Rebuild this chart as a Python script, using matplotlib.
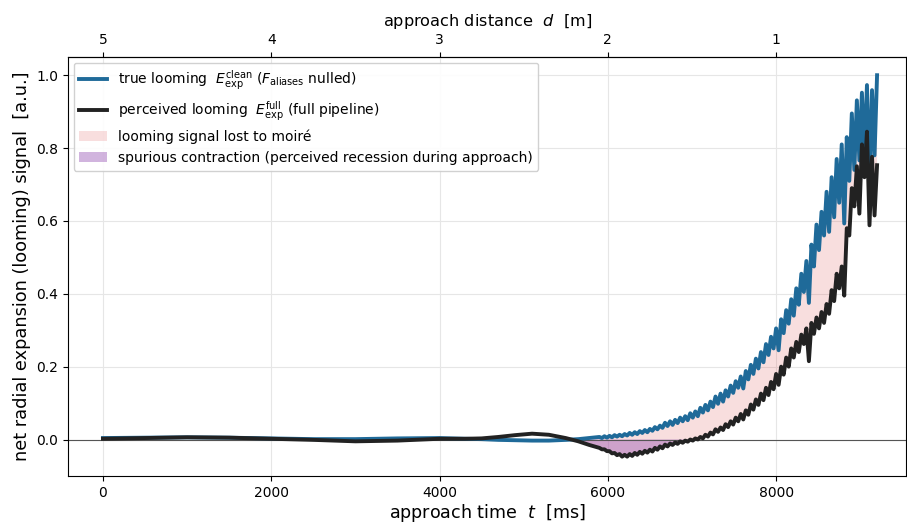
import matplotlib
matplotlib.use("Agg")
import matplotlib.pyplot as plt
import numpy as np

# early, slowly varying part (ms)
t_early = [0, 500, 1000, 1500, 2000, 2500, 3000, 3500, 4000, 4300, 4500,
           4700, 4900, 5100, 5300, 5500, 5650, 5780]
clean_early = [0.004, 0.005, 0.006, 0.005, 0.003, 0.001, 0.001, 0.003, 0.004, 0.002, 0.001,
               -0.001, -0.002, -0.003, -0.003, -0.001, 0.001, 0.004]
full_early = [0.002, 0.004, 0.006, 0.005, 0.002, -0.001, -0.005, -0.003, 0.002, 0.002, 0.003,
              0.007, 0.012, 0.016, 0.013, 0.004, -0.005, -0.015]

t_osc = np.arange(5900, 9201, 30)
clean_osc = [
    .007, .004, .009, .005, .010, .006, .012, .008, .013, .009,
    .015, .011, .018, .013, .020, .015, .023, .018, .026, .020,
    .029, .024, .034, .028, .038, .032, .046, .037, .050, .040,
    .054, .045, .060, .050, .064, .053, .072, .060, .077, .064,
    .087, .074, .095, .080, .104, .089, .118, .098, .126, .104,
    .135, .118, .148, .128, .160, .142, .173, .140, .188, .165,
    .205, .180, .222, .195, .240, .212, .262, .232, .282, .250,
    .305, .245, .330, .292, .355, .318, .385, .340, .415, .370,
    .455, .405, .490, .375, .535, .475, .590, .520, .625, .560,
    .680, .570, .720, .610, .770, .650, .810, .593, .830, .710,
    .895, .740, .931, .766, .952, .776, .973, .693, .959, .780,
    1.0]
full_osc = [
    -.023, -.027, -.027, -.032, -.032, -.038, -.037, -.043, -.040, -.047,
    -.042, -.047, -.040, -.045, -.037, -.042, -.034, -.039, -.031, -.036,
    -.028, -.033, -.023, -.028, -.019, -.024, -.014, -.019, -.011, -.015,
    -.008, -.012, -.005, -.009, -.003, -.006, .000, -.003, .003, .000,
    .007, .003, .013, .008, .019, .014, .028, .021, .033, .026,
    .042, .034, .050, .041, .060, .050, .070, .055, .080, .068,
    .096, .082, .110, .095, .126, .108, .142, .122, .158, .138,
    .180, .150, .200, .178, .225, .200, .250, .225, .268, .240,
    .288, .262, .305, .215, .320, .290, .335, .305, .350, .320,
    .372, .345, .410, .380, .455, .415, .475, .395, .580, .560,
    .690, .640, .750, .620, .810, .720, .845, .588, .776, .615,
    .753]

t = np.concatenate([t_early, t_osc])
clean = np.array(clean_early + clean_osc)
full = np.array(full_early + full_osc)

BLUE = "#1f6a99"
DARK = "#222222"

fig = plt.figure(figsize=(9.07, 5.23), dpi=100)
ax = fig.add_axes([0.075, 0.09, 0.924, 0.801])

ax.grid(True, color="#e6e6e6", linewidth=0.8)
ax.axhline(0, color="#555555", linewidth=0.8, zorder=2.5)

ax.fill_between(t, full, clean, where=clean > full, interpolate=True,
                color="#d62728", alpha=0.15, linewidth=0, zorder=2,
                label="looming signal lost to moiré")
ax.fill_between(t, full, 0, where=full < 0, interpolate=True,
                color="#9b59b6", alpha=0.45, linewidth=0, zorder=2,
                label="spurious contraction (perceived recession during approach)")

ax.plot(t, clean, color=BLUE, lw=2.8, zorder=3,
        label=r"true looming  $E_{\mathrm{exp}}^{\mathrm{clean}}$ ($F_{\mathrm{aliases}}$ nulled)")
ax.plot(t, full, color=DARK, lw=2.8, zorder=4,
        label=r"perceived looming  $E_{\mathrm{exp}}^{\mathrm{full}}$ (full pipeline)")

ax.set_xlim(-415, 9545)
ax.set_ylim(-0.1, 1.05)
ax.set_xticks([0, 2000, 4000, 6000, 8000])
ax.set_yticks([0.0, 0.2, 0.4, 0.6, 0.8, 1.0])
ax.tick_params(labelsize=10)
ax.set_xlabel(r"approach time  $t$  [ms]", fontsize=12.6, labelpad=2)
ax.set_ylabel("net radial expansion (looming) signal  [a.u.]", fontsize=12.8)

sec = ax.secondary_xaxis("top", functions=(lambda x: 5 - x / 2000.0,
                                           lambda d: (5 - d) * 2000.0))
sec.set_xticks([5, 4, 3, 2, 1])
sec.tick_params(labelsize=10, pad=4)
sec.set_xlabel(r"approach distance  $d$  [m]", fontsize=11.6, labelpad=5)

h, l = ax.get_legend_handles_labels()
order = [2, 3, 0, 1]
ax.legend([h[i] for i in order], [l[i] for i in order], loc="upper left",
          fontsize=10, framealpha=0.9, borderaxespad=0.4)

fig.savefig("out.png", dpi=100)
